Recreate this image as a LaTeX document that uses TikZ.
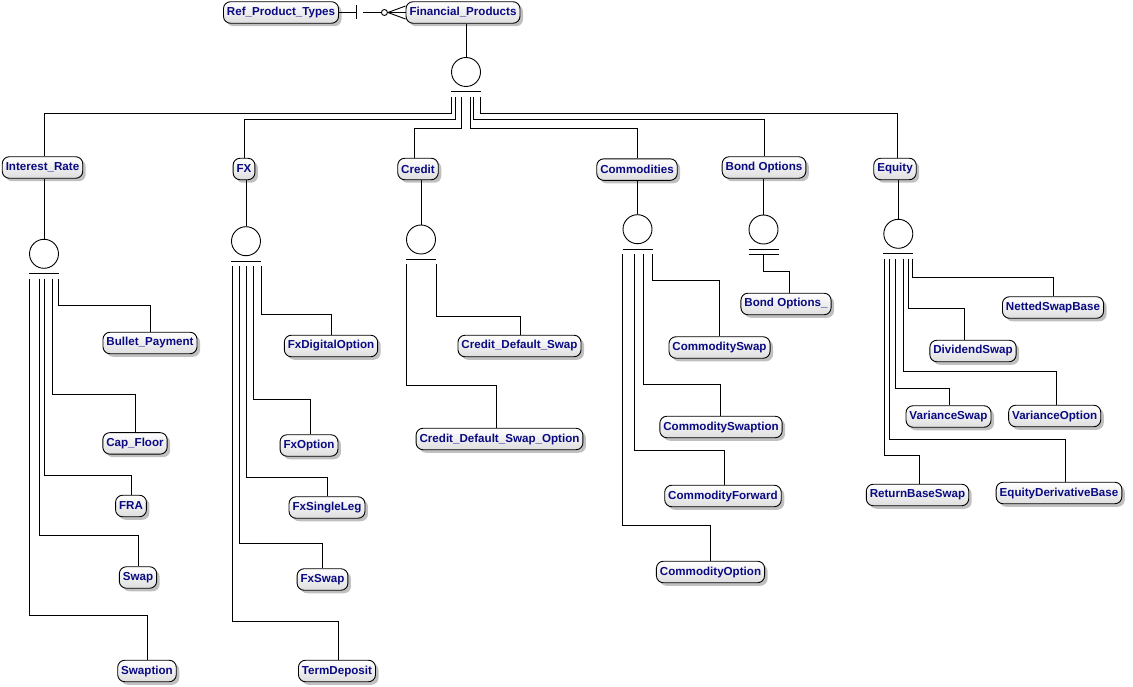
\documentclass[tikz,border=0pt]{standalone}
\usepackage{fontspec}
\newfontfamily\entfont{Liberation Sans}
\usepackage{tikz}
\usetikzlibrary{shadows, positioning, calc}
\definecolor{entitytext}{RGB}{10,10,130}
\definecolor{entityfill}{RGB}{222,222,222}
\definecolor{shadowgray}{RGB}{192,192,192}

\begin{document}
\begin{tikzpicture}[
    x=1pt, y=-1pt,
    entity/.style={rectangle, draw=black, line width=0.9pt, rounded corners=7pt,
                   top color=white, bottom color=entityfill,
                   text=entitytext, font=\entfont\bfseries\fontsize{11.6}{13}\selectfont,
                   minimum height=21.5pt, inner xsep=3.5pt, inner ysep=2pt,
                   drop shadow={shadow xshift=3pt, shadow yshift=-3pt,
                                fill=shadowgray, opacity=1}},
    joint/.style={circle, draw=black, line width=0.9pt, minimum size=29pt, inner sep=0pt},
    ring/.style={circle, draw=black, line width=0.9pt, minimum size=6pt, inner sep=0pt},
    link/.style={draw=black, line width=0.9pt}
]
\useasboundingbox (0,0) rectangle (1133,687);
%% Top relation
\node[entity] (refprod) at (281,12.5) {Ref\_Product\_Types};
\node[entity] (finprod) at (463,12.5) {Financial\_Products};
\draw[link] (refprod.east) -- ++(17,0) coordinate (relbar);
\draw[link] ([yshift=7pt]relbar) -- ([yshift=-7pt]relbar);
\draw[link] ([xshift=7pt]relbar) -- ++(18,0) coordinate (relend);
\node[ring, right=0pt of relend] (relring) {};
\foreach \dy in {-6.5,0,6.5}
    \draw[link] (relring.east) -- ([yshift=\dy pt]finprod.west);
%% Financial_Products subtypes
\node[joint] (topjoin) at (466,72) {};
\draw[link] (finprod.south -| topjoin) -- (topjoin.north);
\coordinate (topbar) at ($(topjoin.south)+(0,5)$);
\draw[link] ($(topbar)+(-15,0)$) -- ($(topbar)+(15,0)$);
\coordinate (toplegs) at ($(topbar)+(0,5)$);
\foreach \leg/\turn/\lx/\nm/\cx/\cy/\txt in {
    451.5/113/44/intrate/42.5/167.5/Interest\_Rate,
    455.5/119/244.3/fx/244/169/FX,
    461.5/128/414.3/credit/418/169/Credit,
    470/128/637.7/commod/637/169.6/Commodities,
    473.5/119.5/764/bondopt/764/167.5/Bond Options,
    480/113.5/897/equity/895/169/Equity} {
    \node[entity] (\nm) at (\cx,\cy) {\txt};
    \draw[link] (toplegs -| \leg,0) |- (\lx,\turn) -- (\nm.north -| \lx,0);
}
%% Interest_Rate subtypes
\node[joint] (irjoin) at (44,253.8) {};
\draw[link] (intrate.south -| irjoin) -- (irjoin.north);
\coordinate (irbar) at ($(irjoin.south)+(0,5)$);
\draw[link] ($(irbar)+(-15,0)$) -- ($(irbar)+(15,0)$);
\coordinate (irlegs) at ($(irbar)+(0,5)$);
\foreach \leg/\turn/\lx/\nm/\cx/\cy/\txt in {
    58.3/305/150/bullet/150/343/Bullet\_Payment,
    52.3/394.3/135.7/capfloor/135/443.4/Cap\_Floor,
    44.3/475.7/131.7/fra/131/506/FRA,
    39.3/535/138.3/swap/138/577.5/Swap,
    29.3/615.7/147.3/swaption/147/671/Swaption} {
    \node[entity] (\nm) at (\cx,\cy) {\txt};
    \draw[link] (irlegs -| \leg,0) |- (\lx,\turn) -- (\nm.north -| \lx,0);
}
%% FX subtypes
\node[joint] (fxjoin) at (246,241.2) {};
\draw[link] (fx.south -| fxjoin) -- (fxjoin.north);
\coordinate (fxbar) at ($(fxjoin.south)+(0,5)$);
\draw[link] ($(fxbar)+(-15,0)$) -- ($(fxbar)+(15,0)$);
\coordinate (fxlegs) at ($(fxbar)+(0,5)$);
\foreach \leg/\turn/\lx/\nm/\cx/\cy/\txt in {
    261/314/331/fxdigital/331/346/FxDigitalOption,
    253.3/399/310/fxoption/309/445.5/FxOption,
    246.7/477.7/327.3/fxsingle/327/507.5/FxSingleLeg,
    239.3/543.3/322.7/fxswap/322.5/579.5/FxSwap,
    232.3/621/338.3/termdep/337/671/TermDeposit} {
    \node[entity] (\nm) at (\cx,\cy) {\txt};
    \draw[link] (fxlegs -| \leg,0) |- (\lx,\turn) -- (\nm.north -| \lx,0);
}
%% Credit subtypes
\node[joint] (crjoin) at (421,239.5) {};
\draw[link] (credit.south -| crjoin) -- (crjoin.north);
\coordinate (crbar) at ($(crjoin.south)+(0,5)$);
\draw[link] ($(crbar)+(-15,0)$) -- ($(crbar)+(15,0)$);
\coordinate (crlegs) at ($(crbar)+(0,5)$);
\foreach \leg/\turn/\lx/\nm/\cx/\cy/\txt in {
    436/316.7/520.7/cds/519.5/346/Credit\_Default\_Swap,
    406/385/496/cdsopt/499.5/439/Credit\_Default\_Swap\_Option} {
    \node[entity] (\nm) at (\cx,\cy) {\txt};
    \draw[link] (crlegs -| \leg,0) |- (\lx,\turn) -- (\nm.north -| \lx,0);
}
%% Commodities subtypes
\node[joint] (cojoin) at (637.5,229.2) {};
\draw[link] (commod.south -| cojoin) -- (cojoin.north);
\coordinate (cobar) at ($(cojoin.south)+(0,5)$);
\draw[link] ($(cobar)+(-15,0)$) -- ($(cobar)+(15,0)$);
\coordinate (colegs) at ($(cobar)+(0,5)$);
\foreach \leg/\turn/\lx/\nm/\cx/\cy/\txt in {
    652.3/280/719/comswap/719.5/347.5/CommoditySwap,
    643.3/384/720.7/comswaption/721/427/CommoditySwaption,
    634.3/450.7/724.7/comforward/723/496/CommodityForward,
    622.7/525/710.7/comoption/710.5/572/CommodityOption} {
    \node[entity] (\nm) at (\cx,\cy) {\txt};
    \draw[link] (colegs -| \leg,0) |- (\lx,\turn) -- (\nm.north -| \lx,0);
}
%% Bond Options subtype
\node[joint] (bojoin) at (763.5,229.5) {};
\draw[link] (bondopt.south -| bojoin) -- (bojoin.north);
\coordinate (bobar) at ($(bojoin.south)+(0,5.3)$);
\coordinate (bobartwo) at ($(bojoin.south)+(0,10)$);
\draw[link] ($(bobar)+(-15,0)$) -- ($(bobar)+(15,0)$);
\draw[link] ($(bobartwo)+(-15,0)$) -- ($(bobartwo)+(15,0)$);
\node[entity] (bondsub) at (786,304) {Bond Options\_};
\draw[link] (bobartwo) |- (789,271.7) -- (bondsub.north -| 789,0);
%% Equity subtypes
\node[joint] (eqjoin) at (898.3,233.8) {};
\draw[link] (equity.south -| eqjoin) -- (eqjoin.north);
\coordinate (eqbar) at ($(eqjoin.south)+(0,5)$);
\draw[link] ($(eqbar)+(-15,0)$) -- ($(eqbar)+(15,0)$);
\coordinate (eqlegs) at ($(eqbar)+(0,5)$);
\foreach \leg/\turn/\lx/\nm/\cx/\cy/\txt in {
    912.7/277.3/1053/netted/1053/307.5/NettedSwapBase,
    908.7/308/964/divswap/973/351/DividendSwap,
    903.3/371.7/1056.7/varopt/1054.7/416/VarianceOption,
    895.3/388/949/varswap/948.5/416.5/VarianceSwap,
    889.3/439/1065/eqderiv/1059/493/EquityDerivativeBase,
    884/455/919/retswap/917.5/495/ReturnBaseSwap} {
    \node[entity] (\nm) at (\cx,\cy) {\txt};
    \draw[link] (eqlegs -| \leg,0) |- (\lx,\turn) -- (\nm.north -| \lx,0);
}
\end{tikzpicture}
\end{document}
